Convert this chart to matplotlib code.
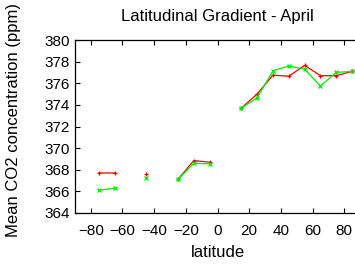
import numpy as np
import matplotlib
matplotlib.use('Agg')
import matplotlib.pyplot as plt

plt.rcParams['font.family'] = ['Liberation Sans', 'DejaVu Sans']

lat = [-75, -65, -55, -45, -35, -25, -15, -5, 5, 15, 25, 35, 45, 55, 65, 75, 85]
nan = np.nan
co2_red = [367.7, 367.7, nan, 367.6, nan, 367.1, 368.85, 368.7, nan,
           373.7, 375.0, 376.75, 376.65, 377.65, 376.7, 376.7, 377.1]
co2_green = [366.1, 366.3, nan, 367.2, nan, 367.1, 368.6, 368.55, nan,
             373.7, 374.65, 377.15, 377.6, 377.3, 375.75, 377.0, 377.1]
xticks = [-80, -60, -40, -20, 0, 20, 40, 60, 80]
yticks = [364, 366, 368, 370, 372, 374, 376, 378, 380]

fig = plt.figure(figsize=(3.55, 2.64), dpi=100)
# axes spans -90..90, right part falls outside the image like the original
ax = fig.add_axes([75/355, 51/264, 285/355, 173/264])

ax.plot(lat, co2_red, color='#ff0000', marker='+', markersize=3.5, lw=0.9, mew=0.9)
ax.plot(lat, co2_green, color='#00ee00', marker='x', markersize=3, lw=0.9, mew=0.9)

ax.set_xlim(-90, 90)
ax.set_ylim(364, 380)
ax.set_xticks(xticks)
ax.set_yticks(yticks)
ax.tick_params(direction='in', top=True, right=True, labelsize=11, length=3.5, width=0.8)
ax.tick_params(axis='x', pad=8)
for s in ax.spines.values():
    s.set_linewidth(0.9)

ax.set_title('Latitudinal Gradient - April', fontsize=12, pad=14)
ax.set_xlabel('latitude', fontsize=12)
ax.set_ylabel('Mean CO2 concentration (ppm)', fontsize=12)
ax.xaxis.set_label_coords(0.5, -0.185)
ax.yaxis.set_label_coords(-0.19, 0.54)

fig.savefig('out.png', dpi=100)
